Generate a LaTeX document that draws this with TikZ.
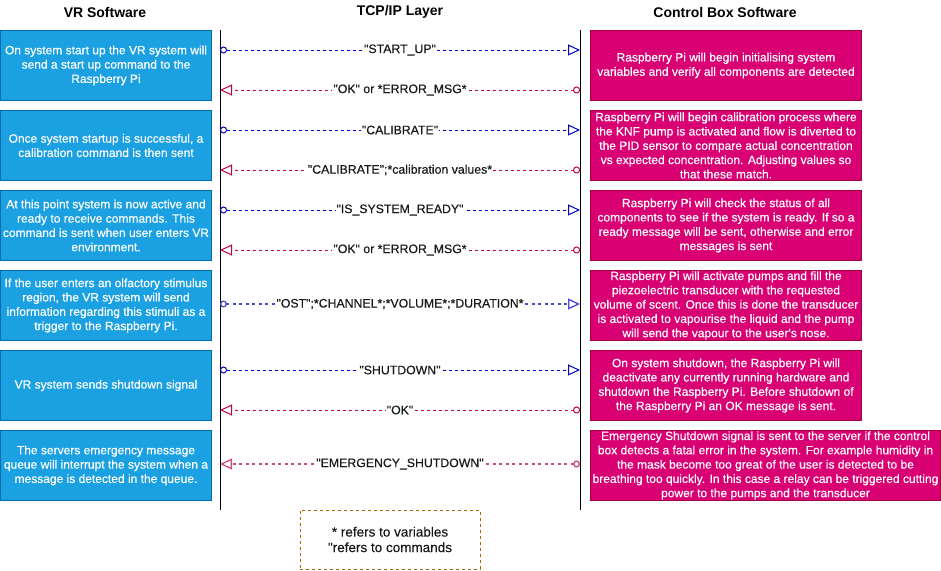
\documentclass[tikz,border=0pt]{standalone}
\usepackage{fontspec}
\setmainfont{Liberation Sans}
\newfontfamily\heavyfont{Liberation Sans}[FakeBold=0.35]
\usetikzlibrary{arrows.meta}
\definecolor{vrfill}{HTML}{1BA1E2}
\definecolor{vrline}{HTML}{006EAF}
\definecolor{cbfill}{HTML}{D80073}
\definecolor{cbline}{HTML}{A50040}
\definecolor{reqc}{HTML}{0000CC}
\definecolor{resc}{HTML}{C4004A}
\definecolor{reqlight}{HTML}{4A4AD8}
\definecolor{reslight}{HTML}{CC4A82}
\definecolor{legc}{HTML}{B46504}
\tikzset{
  vrbox/.style={draw=vrline, fill=vrfill, line width=1pt, minimum width=211pt, minimum height=70pt, inner sep=0pt, text=white, align=center, font=\heavyfont\fontsize{12}{14.3}\selectfont, anchor=north west},
  cbbox/.style={draw=cbline, fill=cbfill, line width=1pt, minimum width=271pt, minimum height=70pt, inner sep=0pt, text=white, align=center, font=\heavyfont\fontsize{12}{14.3}\selectfont, anchor=north west},
  head/.style={font=\fontsize{14}{16}\selectfont\bfseries},
  msg/.style={line width=1pt, dash pattern=on 3pt off 3pt, {Circle[open,length=7pt,width=7pt]}-{Triangle[open,length=12pt,width=11pt]}},
  req/.style={msg, draw=reqc},
  res/.style={msg, draw=resc},
  lbl/.style={fill=white, inner sep=1pt, text=black!90, font=\heavyfont\fontsize{12.3}{14}\selectfont},
  lifeline/.style={line width=1pt, draw=black},
}
\begin{document}
\begin{tikzpicture}[x=1pt,y=-1pt]
\useasboundingbox (0,0) rectangle (941,570);
% headings
\node[head] (h1) at (105,12) {VR Software};
\node[head] (h2) at (400,12) {TCP/IP Layer};
\node[head] (h3) at (725,12) {Control Box Software};
% lifelines
\coordinate (lt) at (220,30); \coordinate (lb) at (220,510);
\coordinate (rt) at (580,30); \coordinate (rb) at (580,510);
\draw[lifeline] (lt) -- (lb);
\draw[lifeline] (rt) -- (rb);
% left boxes
\node[vrbox] (v1) at (0,30) {On system start up the VR system will\\send a start up command to the\\Raspberry Pi};
\node[vrbox] (v2) at (0,110) {Once system startup is successful, a\\calibration command is then sent};
\node[vrbox] (v3) at (0,190) {At this point system is now active and\\ready to receive commands. This\\command is sent when user enters VR\\environment.};
\node[vrbox] (v4) at (0,270) {If the user enters an olfactory stimulus\\region, the VR system will send\\information regarding this stimuli as a\\trigger to the Raspberry Pi.};
\node[vrbox] (v5) at (0,350) {VR system sends shutdown signal};
\node[vrbox] (v6) at (0,430) {The servers emergency message\\queue will interrupt the system when a\\message is detected in the queue.};
% right boxes
\node[cbbox] (c1) at (590,30) {Raspberry Pi will begin initialising system\\variables and verify all components are detected};
\node[cbbox] (c2) at (590,110) {Raspberry Pi will begin calibration process where\\the KNF pump is activated and flow is diverted to\\the PID sensor to compare actual concentration\\vs expected concentration. Adjusting values so\\that these match.};
\node[cbbox] (c3) at (590,190) {Raspberry Pi will check the status of all\\components to see if the system is ready. If so a\\ready message will be sent, otherwise and error\\messages is sent};
\node[cbbox] (c4) at (590,270) {Raspberry Pi will activate pumps and fill the\\piezoelectric transducer with the requested\\volume of scent. Once this is done the transducer\\is activated to vapourise the liquid and the pump\\will send the vapour to the user's nose.};
\node[cbbox] (c5) at (590,350) {On system shutdown, the Raspberry Pi will\\deactivate any currently running hardware and\\shutdown the Raspberry Pi. Before shutdown of\\the Raspberry Pi an OK message is sent.};
\node[cbbox, minimum width=350pt] (c6) at (590,430) {Emergency Shutdown signal is sent to the server if the control\\box detects a fatal error in the system. For example humidity in\\the mask become too great of the user is detected to be\\breathing too quickly. In this case a relay can be triggered cutting\\power to the pumps and the transducer};
% message endpoints
\foreach \n/\y in {a/50,b/90,c/130,d/170,e/210,f/250,g/304,h/370,i/410,j/464}{
  \coordinate (L\n) at (220,\y);
  \coordinate (R\n) at (580,\y);
}
\draw[req] (La) -- node[lbl] (ma) {"START\_UP"} (Ra);
\draw[res] (Rb) -- node[lbl] (mb) {"OK" or *ERROR\_MSG*} (Lb);
\draw[req] (Lc) -- node[lbl] (mc) {"CALIBRATE"} (Rc);
\draw[res] (Rd) -- node[lbl] (md) {"CALIBRATE";*calibration values*} (Ld);
\draw[req] (Le) -- node[lbl] (me) {"IS\_SYSTEM\_READY"} (Re);
\draw[res] (Rf) -- node[lbl] (mf) {"OK" or *ERROR\_MSG*} (Lf);
\draw[req, draw=reqlight, line width=1.3pt, dash pattern=on 3pt off 3.5pt] (Lg) -- node[lbl] (mg) {"OST";*CHANNEL*;*VOLUME*;*DURATION*} (Rg);
\draw[req] (Lh) -- node[lbl] (mh) {"SHUTDOWN"} (Rh);
\draw[res] (Ri) -- node[lbl] (mi) {"OK"} (Li);
\draw[res, draw=reslight, line width=1.3pt, dash pattern=on 3pt off 3.5pt] (Rj) -- node[lbl] (mj) {"EMERGENCY\_SHUTDOWN"} (Lj);
% legend
\node[draw=legc, dashed, line width=0.8pt, minimum width=180pt, minimum height=59pt, align=center, text=black!90, font=\heavyfont\fontsize{13.5}{15.5}\selectfont] (leg) at (390,539.5) {* refers to variables\\"refers to commands};
\end{tikzpicture}
\end{document}
